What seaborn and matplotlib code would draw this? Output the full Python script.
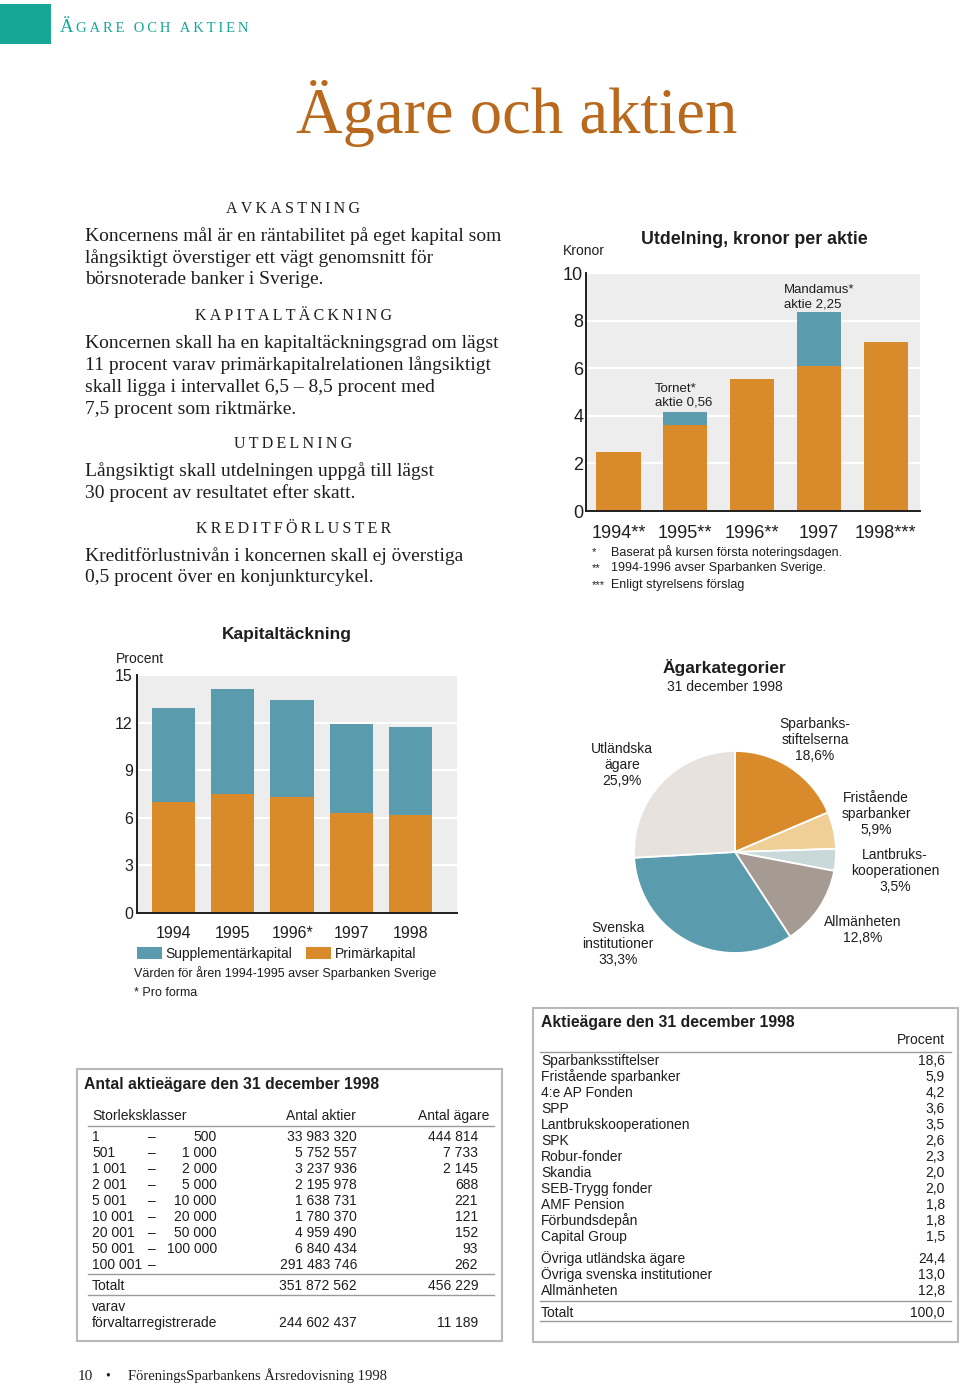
import matplotlib
matplotlib.use("Agg")
import matplotlib.pyplot as plt
from matplotlib.patches import Rectangle, Patch
import seaborn as sns

# utdelning, kronor per aktie
div_years = ['1994**', '1995**', '1996**', '1997', '1998***']
div_ordinary = [2.5, 3.6, 5.55, 6.1, 7.1]
div_extra = [0.0, 0.56, 0.0, 2.25, 0.0]

# kapitaltäckning, procent
cap_years = ['1994', '1995', '1996*', '1997', '1998']
cap_primary = [7.0, 7.5, 7.3, 6.3, 6.2]
cap_supplementary = [5.9, 6.6, 6.1, 5.6, 5.5]

# ägarkategorier
pie_names = ['Sparbanks-\nstiftelserna', 'Fristående\nsparbanker', 'Lantbruks-\nkooperationen',
             'Allmänheten', 'Svenska\ninstitutioner', 'Utländska\nägare']
pie_shares = [18.6, 5.9, 3.5, 12.8, 33.3, 25.9]

# antal aktieägare
size_from = [1, 501, 1001, 2001, 5001, 10001, 20001, 50001, 100001]
size_to = [500, 1000, 2000, 5000, 10000, 20000, 50000, 100000, None]
n_shares = [33983320, 5752557, 3237936, 2195978, 1638731, 1780370, 4959490, 6840434, 291483746]
n_owners = [444814, 7733, 2145, 688, 221, 121, 152, 93, 262]
total_shares, total_owners = 351872562, 456229
nominee_shares, nominee_owners = 244602437, 11189

# aktieägare, procent
owners = ['Sparbanksstiftelser', 'Fristående sparbanker', '4:e AP Fonden', 'SPP',
          'Lantbrukskooperationen', 'SPK', 'Robur-fonder', 'Skandia', 'SEB-Trygg fonder',
          'AMF Pension', 'Förbundsdepån', 'Capital Group']
owner_pct = [18.6, 5.9, 4.2, 3.6, 3.5, 2.6, 2.3, 2.0, 2.0, 1.8, 1.8, 1.5]
other_owners = ['Övriga utländska ägare', 'Övriga svenska institutioner', 'Allmänheten']
other_pct = [24.4, 13.0, 12.8]
total_pct = 100.0

ORANGE = '#d98b2b'
TEAL = '#5a9cae'
BG = '#ededed'
INK = '#1e1e1e'
SANS = ['Liberation Sans', 'DejaVu Sans']
SERIF = ['Liberation Serif', 'DejaVu Serif']

W, H = 960, 1387


def rect(x0, y0, x1, y1):
    return [x0 / W, 1 - y1 / H, (x1 - x0) / W, (y1 - y0) / H]


def num(n):
    return f"{n:,}".replace(",", " ")


def pct(v):
    return f"{v:.1f}".replace(".", ",")


def spaced(s):
    return '\u2009'.join(s)


fig = plt.figure(figsize=(9.6, 13.87), dpi=100)
fig.patch.set_facecolor('white')
page = fig.add_axes([0, 0, 1, 1])
page.set_xlim(0, W)
page.set_ylim(H, 0)
page.axis('off')


def T(x, y, s, size=10, family=SANS, **kw):
    kw.setdefault('va', 'center')
    kw.setdefault('color', INK)
    page.text(x, y, s, fontsize=size, family=family, **kw)


# header
page.add_patch(Rectangle((0, 4), 51, 40, color='#17a797', lw=0))
T(60, 32, 'Ä', 13.5, SERIF, va='baseline', color='#17a797')
T(76, 32, spaced('GARE OCH AKTIEN'), 10.5, SERIF, va='baseline', color='#17a797')
T(296, 133, 'Ägare och aktien', 46.5, SERIF, va='baseline', color='#b8691d')

# body text
blocks = [
    ('AVKASTNING', 209, ['Koncernens mål är en räntabilitet på eget kapital som',
                         'långsiktigt överstiger ett vägt genomsnitt för',
                         'börsnoterade banker i Sverige.']),
    ('KAPITALTÄCKNING', 316, ['Koncernen skall ha en kapitaltäckningsgrad om lägst',
                              '11 procent varav primärkapitalrelationen långsiktigt',
                              'skall ligga i intervallet 6,5 – 8,5 procent med',
                              '7,5 procent som riktmärke.']),
    ('UTDELNING', 444, ['Långsiktigt skall utdelningen uppgå till lägst',
                        '30 procent av resultatet efter skatt.']),
    ('KREDITFÖRLUSTER', 529, ['Kreditförlustnivån i koncernen skall ej överstiga',
                              '0,5 procent över en konjunkturcykel.']),
]
for head, y, lines in blocks:
    T(293.5, y, spaced(head), 11.5, SERIF, ha='center')
    for i, line in enumerate(lines):
        T(85, y + 27 + 22 * i, line, 14, SERIF)


def style_bars(ax, ymax, step, fs):
    ax.set_facecolor(BG)
    ax.set_ylim(0, ymax)
    ax.set_yticks(range(0, ymax + 1, step))
    ax.yaxis.grid(True, color='white', lw=1.6)
    ax.xaxis.grid(False)
    ax.set_axisbelow(True)
    for s in ['top', 'right']:
        ax.spines[s].set_visible(False)
    for s in ['left', 'bottom']:
        ax.spines[s].set_color(INK)
        ax.spines[s].set_linewidth(1.4)
    ax.set_xlabel('')
    ax.set_ylabel('')
    ax.tick_params(length=0, labelsize=fs, colors=INK)
    for lab in ax.get_xticklabels() + ax.get_yticklabels():
        lab.set_family(SANS)


# utdelning chart
ax1 = fig.add_axes(rect(586, 273, 920, 511))
div_total = [a + b for a, b in zip(div_ordinary, div_extra)]
sns.barplot(x=div_years, y=div_total, color=TEAL, saturation=1, width=0.66,
            errorbar=None, linewidth=0, ax=ax1)
sns.barplot(x=div_years, y=div_ordinary, color=ORANGE, saturation=1, width=0.66,
            errorbar=None, linewidth=0, ax=ax1)
ax1.set_xlim(-0.486, 4.51)
style_bars(ax1, 10, 2, 13)
ax1.tick_params(axis='x', pad=10)
ax1.tick_params(axis='y', pad=2)
ax1.text(0.545, 4.29, 'Tornet*\naktie 0,56', fontsize=9.5, family=SANS, color=INK,
         va='bottom', ha='left', linespacing=1.25)
ax1.text(2.474, 8.42, 'Mandamus*\naktie 2,25', fontsize=9.5, family=SANS, color=INK,
         va='bottom', ha='left', linespacing=1.25)
T(754, 240, 'Utdelning, kronor per aktie', 12.8, ha='center', weight='bold')
T(563, 251, 'Kronor', 10)
notes = [('*', 'Baserat på kursen första noteringsdagen.'),
         ('**', '1994-1996 avser Sparbanken Sverige.'),
         ('***', 'Enligt styrelsens förslag')]
for i, (mark, txt) in enumerate(notes):
    T(592, 552 + 16.5 * i, mark, 8)
    T(611, 552 + 16.5 * i, txt, 9)

# kapitaltäckning chart
ax2 = fig.add_axes(rect(137, 675, 457, 913))
cap_total = [a + b for a, b in zip(cap_primary, cap_supplementary)]
sns.barplot(x=cap_years, y=cap_total, color=TEAL, saturation=1, width=0.73,
            errorbar=None, linewidth=0, ax=ax2)
sns.barplot(x=cap_years, y=cap_primary, color=ORANGE, saturation=1, width=0.73,
            errorbar=None, linewidth=0, ax=ax2)
ax2.set_xlim(-0.616, 4.78)
style_bars(ax2, 15, 3, 11.5)
ax2.tick_params(axis='x', pad=9)
ax2.tick_params(axis='y', pad=3)
leg = ax2.legend(handles=[Patch(facecolor=TEAL), Patch(facecolor=ORANGE)],
                 labels=['Supplementärkapital', 'Primärkapital'],
                 loc='upper left', bbox_to_anchor=(0, -0.142), ncol=2, frameon=False,
                 prop={'family': SANS, 'size': 10}, handlelength=1.8, handleheight=0.85,
                 handletextpad=0.25, columnspacing=1.0, borderpad=0, borderaxespad=0)
for t in leg.get_texts():
    t.set_color(INK)
T(287, 634, 'Kapitaltäckning', 12.5, ha='center', weight='bold')
T(116, 659, 'Procent', 10)
T(134, 973, 'Värden för åren 1994-1995 avser Sparbanken Sverige', 9)
T(134, 993, '* Pro forma', 9)

# ägarkategorier pie
ax3 = fig.add_axes(rect(634, 751, 836, 953))
pie_colors = [ORANGE, '#efcf95', '#c9d9da', '#a59b93', TEAL, '#e7e2dd']
wedges, _ = ax3.pie(pie_shares, colors=pie_colors, startangle=90, counterclock=False,
                    wedgeprops=dict(edgecolor='white', linewidth=1.3))
for w in wedges:
    w.set_clip_on(False)
ax3.set_xlim(-1, 1)
ax3.set_ylim(-1, 1)
T(724, 668, 'Ägarkategorier', 12.5, ha='center', weight='bold')
T(725, 687, '31 december 1998', 10, ha='center')
label_pos = [(815, 740), (876, 814), (895, 871), (863, 930), (618, 944), (622, 765)]
for name, share, (x, y) in zip(pie_names, pie_shares, label_pos):
    T(x, y, f"{name}\n{pct(share)}%", 10, ha='center', multialignment='center',
      linespacing=1.2)

# table: antal aktieägare
page.add_patch(Rectangle((77, 1069), 425, 272, fill=False, ec='#b9b9b9', lw=1.5))
T(84, 1085, 'Antal aktieägare den 31 december 1998', 11.3, weight='bold')
T(92, 1116, 'Storleksklasser', 10)
T(356, 1116, 'Antal aktier', 10, ha='right')
T(489, 1116, 'Antal ägare', 10, ha='right')
for yy in (1126, 1274, 1295):
    page.plot([88, 494], [yy, yy], color='#9a9a9a', lw=1)
for i in range(len(size_from)):
    y = 1137 + 16 * i
    T(92, y, num(size_from[i]), 10)
    T(152, y, '–', 10, ha='center')
    if size_to[i] is not None:
        T(217, y, num(size_to[i]), 10, ha='right')
    T(357, y, num(n_shares[i]), 10, ha='right')
    T(478, y, num(n_owners[i]), 10, ha='right')
T(92, 1286, 'Totalt', 10)
T(357, 1286, num(total_shares), 10, ha='right')
T(478, 1286, num(total_owners), 10, ha='right')
T(92, 1307, 'varav', 10)
T(92, 1323, 'förvaltarregistrerade', 10)
T(357, 1323, num(nominee_shares), 10, ha='right')
T(478, 1323, num(nominee_owners), 10, ha='right')

# table: aktieägare procent
page.add_patch(Rectangle((533, 1008), 425, 334, fill=False, ec='#b9b9b9', lw=1.5))
T(541, 1022, 'Aktieägare den 31 december 1998', 11.3, weight='bold')
T(945, 1040, 'Procent', 10, ha='right')
for yy in (1052, 1301, 1321):
    page.plot([540, 951], [yy, yy], color='#9a9a9a', lw=1)
for i, (name, v) in enumerate(zip(owners, owner_pct)):
    T(541, 1061 + 16 * i, name, 10)
    T(945, 1061 + 16 * i, pct(v), 10, ha='right')
for i, (name, v) in enumerate(zip(other_owners, other_pct)):
    T(541, 1259 + 16 * i, name, 10)
    T(945, 1259 + 16 * i, pct(v), 10, ha='right')
T(541, 1313, 'Totalt', 10)
T(945, 1313, pct(total_pct), 10, ha='right')

# footer
T(78, 1376, '10', 11, SERIF)
T(108, 1376, '•', 10, SERIF, ha='center')
T(128, 1376, 'FöreningsSparbankens Årsredovisning 1998', 10.5, SERIF)

fig.savefig('out.png', dpi=100)
